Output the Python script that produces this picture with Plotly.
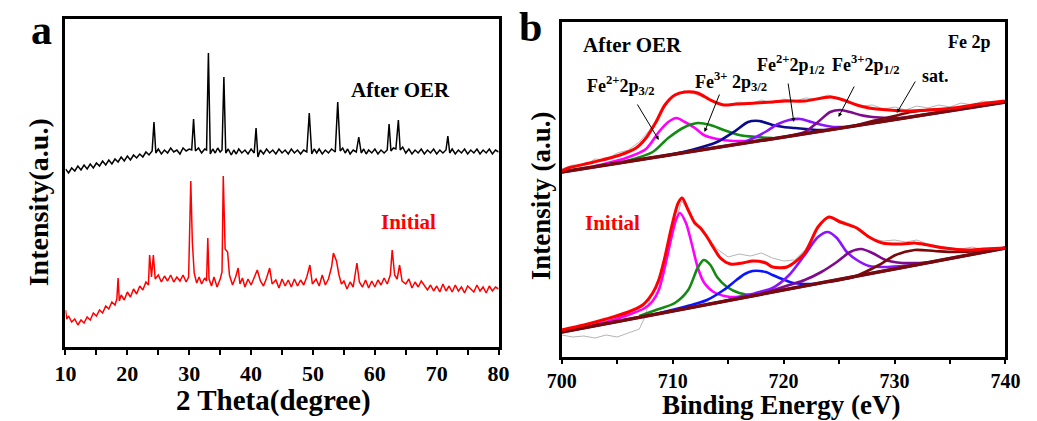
import plotly.graph_objects as go

W, H = 1037, 421
FONT = "Liberation Serif"

# ---------------- Panel a: XRD (arbitrary intensity units) ----------------
xrd_after_x = [10, 10.5, 11, 11.5, 12, 12.5, 13, 13.5, 14, 14.5, 15, 15.5, 16, 16.5, 17, 17.5, 18, 18.5, 19, 19.5,
               20, 20.5, 21, 21.5, 22, 22.5, 23, 23.5, 24.0, 24.3, 24.6, 25, 25.5, 26, 26.5, 27, 27.5, 28, 28.5, 29,
               29.5, 30, 30.4, 30.7, 31.0, 31.5, 32, 32.5, 32.8, 33.1, 33.4, 33.8, 34.2, 34.6, 35.0, 35.3, 35.6, 35.9,
               36.3, 36.8, 37.2, 37.6, 38, 38.5, 39, 39.5, 40, 40.5, 40.8, 41.1, 41.5, 42, 42.5, 43, 43.5, 44, 44.5,
               45, 45.5, 46, 46.5, 47, 47.5, 48, 48.5, 49.0, 49.4, 49.8, 50.2, 50.6, 51, 51.5, 52, 52.5, 53, 53.6,
               54.0, 54.4, 54.8, 55.2, 55.6, 56, 56.5, 57, 57.4, 57.8, 58.2, 58.6, 59, 59.5, 60, 60.5, 61, 61.5,
               62.0, 62.3, 62.6, 63.0, 63.4, 63.8, 64.1, 64.5, 65, 65.5, 66, 66.5, 67, 67.5, 68, 68.5, 69, 69.5, 70,
               70.5, 71, 71.5, 71.8, 72.1, 72.5, 73, 73.5, 74, 74.5, 75, 75.5, 76, 76.5, 77, 77.5, 78, 78.5, 79,
               79.5, 80]
xrd_after_y = [178, 174, 179, 176, 181, 177, 182, 178, 183, 179, 184, 181, 186, 182, 187, 183, 188, 185, 190, 186,
               191, 187, 192, 189, 193, 190, 195, 192, 196, 225, 194, 198, 193, 197, 194, 199, 195, 197, 193, 199,
               196, 198, 197, 228, 196, 199, 194, 198, 197, 294, 193, 198, 194, 199, 195, 197, 270, 194,
               198, 192, 197, 193, 198, 194, 197, 193, 198, 194, 219, 190, 197, 193, 198, 194, 197, 193, 198,
               194, 197, 193, 198, 194, 197, 193, 197, 195, 234, 193, 198, 194, 198, 193, 197, 194, 198, 195,
               245, 196, 199, 194, 198, 193, 197, 195, 210, 194, 198, 193, 197, 194, 198, 193, 197, 194,
               197, 223, 196, 199, 198, 227, 197, 200, 194, 198, 193, 197, 194, 198, 193, 197, 194, 198, 193,
               197, 194, 197, 211, 194, 198, 193, 197, 194, 198, 193, 197, 194, 198, 193, 197, 194, 198, 193,
               197, 195]

xrd_init_x = [10.0, 10.2, 10.5, 11, 11.5, 12, 12.5, 13, 13.5, 14, 14.5, 15, 15.5, 16, 16.5, 17, 17.5, 18, 18.3, 18.5,
              18.7, 19, 19.5, 20, 20.5, 21, 21.5, 22, 22.5, 23, 23.4, 23.6, 23.9, 24.2, 24.5, 25, 25.5, 26, 26.5, 27,
              27.5, 28, 28.5, 29, 29.5, 29.9, 30.25, 30.5, 30.8, 31.2, 31.6, 32, 32.5, 32.8, 33.0, 33.2, 33.6, 34,
              34.5, 35.0, 35.3, 35.5, 35.8, 36.2, 36.5, 37, 37.5, 37.9, 38.2, 38.6, 39, 39.5, 40, 40.5, 41, 41.5,
              42, 42.5, 43, 43.4, 44, 44.5, 45, 45.5, 46, 46.5, 47, 47.5, 48, 48.5, 49.0, 49.5, 49.9, 50.5, 51,
              51.5, 52, 52.5, 53.0, 53.3, 53.8, 54.2, 54.6, 55, 55.5, 56, 56.5, 57.1, 57.5, 58, 58.5, 59, 59.5, 60,
              60.5, 61, 61.5, 62, 62.5, 62.8, 63.2, 63.6, 64.0, 64.4, 65, 65.5, 66, 66.5, 67, 67.5, 68, 68.5, 69,
              69.5, 70, 70.5, 71, 71.5, 72, 72.5, 73, 73.5, 74, 74.5, 75, 75.5, 76, 76.5, 77, 77.5, 78, 78.5, 79,
              79.5, 80]
xrd_init_y = [37, 28, 31, 25, 28, 22, 27, 24, 30, 27, 34, 31, 37, 34, 41, 38, 45, 42, 48, 69,
              46, 52, 47, 55, 50, 58, 53, 61, 57, 65, 62, 92, 70, 92, 68, 72, 65, 71, 66, 72,
              65, 70, 66, 72, 65, 70, 166, 105, 74, 64, 70, 63, 69, 66, 109, 68, 61, 70,
              60, 68, 75, 171, 98, 95, 72, 62, 70, 79, 63, 69, 60, 68, 62, 70, 77, 66,
              61, 69, 79, 63, 67, 59, 68, 61, 67, 60, 68, 61, 67, 62, 70, 82, 63, 68, 61,
              72, 62, 68, 80, 94, 86, 72, 63, 66, 58, 65, 60, 84, 65, 60, 67, 59, 66, 60,
              67, 62, 69, 63, 72, 97, 72, 68, 82, 66, 63, 68, 59, 65, 60, 66, 62, 57, 62,
              56, 61, 55, 63, 56, 61, 55, 62, 56, 60, 54, 61, 58, 55, 62, 56, 60, 54, 61, 56,
              60, 58]

# ---------------- Panel b: XPS Fe 2p (arbitrary intensity units) ----------------
# After OER
aft_base_x = [700, 740]
aft_base_y = [185, 255]
aft_raw_x = list(range(700, 741))
aft_raw_y = [188, 192, 191, 198, 197, 204, 207, 215, 228, 246, 260, 266, 263, 259, 253, 252, 255, 253, 257, 254,
             258, 256, 259, 258, 262, 259, 255, 251, 252, 248, 250, 247, 251, 249, 252, 250, 254, 252, 256, 254, 257]
aft_env_x = [700, 700.6, 702.9, 705.25, 706.7, 707.6, 708.5, 709.3, 710.2, 711.1, 712.25, 713.4, 714.6, 715.75,
             717.5, 719.0, 720.1, 721.9, 724.2, 725.4, 726.6, 727.7, 729.5, 731.2, 733.0, 735.3, 737.7, 739.9]
aft_env_y = [186, 189, 195, 202, 209, 219, 235, 252, 262, 265, 264, 257, 252, 253,
             254, 255, 256, 256, 260, 257, 252, 249, 247, 246, 247, 249, 253, 256]
aft_fe2_32_x = [703, 705.8, 707.6, 708.75, 709.6, 710.35, 711.1, 712.0, 712.8, 714.0, 715.5, 716.9]
aft_fe2_32_y = [191, 199, 208, 225, 235, 239, 235, 229, 222, 218, 216, 216]
aft_fe3_32_x = [705.8, 708.2, 709.6, 711.1, 712.25, 713.4, 714.6, 716.0, 717.5, 719.0]
aft_fe3_32_y = [196, 205, 219, 230, 234, 232, 227, 222, 220, 219]
aft_fe2_12_x = [708.75, 711.7, 714.0, 715.5, 716.8, 717.8, 719.0, 720.0, 721.0, 722.0, 723.0, 724.0]
aft_fe2_12_y = [200, 207, 215, 225, 235, 236, 232, 230, 229, 228, 227, 227]
aft_fe2b_x = [716.5, 717.5, 718.5, 719.5, 720.5, 721.5, 722.5, 723.5, 724.5, 725.5]
aft_fe2b_y = [215, 220, 226, 233, 237, 238, 235, 232, 230, 230]
aft_fe3_12_x = [720.5, 721.9, 723.1, 724.2, 725.1, 726.0, 726.9, 728.0, 729.5, 731]
aft_fe3_12_y = [221, 225, 235, 245, 247, 245, 242, 240, 239, 239]
aft_sat_x = [726, 728, 730, 731.5, 733, 735, 737]
aft_sat_y = [230, 236, 241, 245, 247, 248, 250]

# Initial
ini_base_x = [700, 740]
ini_base_y = [25, 109]
ini_raw_x = [700, 701, 702, 703, 704, 705, 706, 707, 707.5, 708, 708.5, 709, 710, 710.8, 711.5, 712, 713, 714, 715,
             716, 717, 718, 719, 720, 721, 722, 723, 724, 725, 726, 727, 728, 729, 730, 731, 732, 733, 734, 735,
             736, 737, 738, 739, 740]
ini_raw_y = [22, 20, 21, 19, 22, 20, 24, 28, 40, 60, 72, 88, 125, 156, 146, 134, 122, 108, 100,
             103, 101, 104, 99, 96, 97, 108, 128, 141, 137, 133, 124, 118, 116, 117, 115, 117, 113, 111, 109,
             108, 110, 107, 109, 108]
ini_env_x = [700, 702, 704, 706, 707.3, 708.2, 708.75, 709.3, 709.9, 710.5, 710.85, 711.4, 712.0, 712.5, 713.1,
             713.7, 714.3, 715.2, 716.3, 717.2, 718.4, 719.0, 720.3, 721.9, 723.1, 724.1, 725.1, 726.6, 727.7,
             728.9, 730.7, 731.8, 733.0, 734.5, 736.5, 738, 740]
ini_env_y = [27, 32, 38, 45, 52, 64, 77, 100, 130, 154, 159, 147, 134, 129, 120,
             109, 99, 93, 94, 96, 94, 90, 90, 104, 130, 140, 135, 129, 120,
             114, 113, 114, 112, 109, 107, 108, 109]
ini_fe2_32_x = [702, 704, 706, 707.5, 708.2, 708.75, 709.3, 709.9, 710.3, 710.65, 711.2, 711.7, 712.25, 712.8,
                713.7, 715.2, 716.6]
ini_fe2_32_y = [30, 35, 42, 49, 56, 67, 90, 120, 137, 144, 134, 114, 90, 75, 65, 60, 61]
ini_fe3_32_x = [707, 708.75, 710.2, 711.4, 712.25, 712.8, 713.4, 714.0, 714.9, 716.0, 717.2, 718.5]
ini_fe3_32_y = [41, 48, 54, 67, 89, 97, 92, 80, 70, 64, 62, 64]
ini_fe2_12_x = [708.5, 711.7, 713.1, 714.6, 715.75, 716.5, 717.2, 718.4, 719.0, 720.1, 720.9, 721.9, 723]
ini_fe2_12_y = [43, 52, 57, 67, 77, 83, 86, 85, 82, 77, 74, 73, 73]
ini_fe2b_x = [714, 716, 717.5, 719.0, 720.5, 721.9, 723.1, 724.0, 724.8, 725.7, 726.6, 727.7, 729.2, 730.7, 732]
ini_fe2b_y = [54, 60, 64, 69, 82, 102, 120, 125, 119, 105, 97, 91, 90, 91, 92]
ini_fe3_12_x = [718, 720.5, 721.9, 723.4, 724.8, 726.0, 727.0, 728.0, 729.2, 730.7, 732, 733.5]
ini_fe3_12_y = [63, 72, 77, 85, 95, 105, 108, 104, 97, 94, 94, 95]
ini_sat_x = [724, 726.3, 728.6, 730.1, 731.8, 733.6, 735.3, 737.7, 740]
ini_sat_y = [75, 80, 92, 102, 107, 106, 105, 106, 109]

xrd_ticks = [10, 20, 30, 40, 50, 60, 70, 80]
xps_ticks = [700, 710, 720, 730, 740]

# ---------------- colours ----------------
RED = "#ff0000"
MAG = "#ff00ff"
GRN = "#138a13"
NAVY = "#0a0a8c"
BLUE = "#0a14ff"
VIO = "#8a14ff"
PUR = "#800a8c"
MAR = "#7a0a0a"
GRAY = "#b4b4b4"

fig = go.Figure()

# panel a
fig.add_trace(go.Scatter(x=xrd_after_x, y=xrd_after_y, mode="lines", line=dict(color="black", width=1.5),
                         xaxis="x", yaxis="y", showlegend=False))
fig.add_trace(go.Scatter(x=xrd_init_x, y=xrd_init_y, mode="lines", line=dict(color=RED, width=1.5),
                         xaxis="x", yaxis="y", showlegend=False))


def xps(x, y, color, width=2.6, shape="spline"):
    fig.add_trace(go.Scatter(x=x, y=y, mode="lines",
                             line=dict(color=color, width=width, shape=shape, smoothing=0.8),
                             xaxis="x2", yaxis="y2", showlegend=False))


# After OER spectrum
xps(aft_raw_x, aft_raw_y, GRAY, 1.0, "linear")
xps(aft_fe2_32_x, aft_fe2_32_y, MAG)
xps(aft_fe3_32_x, aft_fe3_32_y, GRN)
xps(aft_fe2_12_x, aft_fe2_12_y, NAVY)
xps(aft_fe2b_x, aft_fe2b_y, VIO)
xps(aft_fe3_12_x, aft_fe3_12_y, PUR)
xps(aft_sat_x, aft_sat_y, MAR)
xps(aft_base_x, aft_base_y, BLUE, 3, "linear")
xps(aft_base_x, aft_base_y, MAR, 3.5, "linear")
xps(aft_env_x, aft_env_y, RED, 3)

# Initial spectrum
xps(ini_raw_x, ini_raw_y, GRAY, 1.0, "linear")
xps(ini_fe2_32_x, ini_fe2_32_y, MAG)
xps(ini_fe3_32_x, ini_fe3_32_y, GRN)
xps(ini_fe2_12_x, ini_fe2_12_y, BLUE)
xps(ini_fe2b_x, ini_fe2b_y, VIO)
xps(ini_fe3_12_x, ini_fe3_12_y, PUR)
xps(ini_sat_x, ini_sat_y, MAR)
xps(ini_base_x, ini_base_y, BLUE, 3, "linear")
xps(ini_base_x, ini_base_y, MAR, 3.5, "linear")
xps(ini_env_x, ini_env_y, RED, 3)

axis_common = dict(showline=True, linecolor="black", linewidth=3, mirror=True, showgrid=False, zeroline=False)


def px_x(p):
    return p / W


def px_y(p):
    return 1 - p / H


fig.update_layout(
    width=W, height=H, margin=dict(l=0, r=0, t=0, b=0),
    paper_bgcolor="white", plot_bgcolor="white",
    xaxis=dict(domain=[px_x(52), px_x(498)], range=[10, 80], anchor="y", tickvals=xrd_ticks,
               ticks="outside", ticklen=5, tickwidth=2, tickcolor="black",
               tickfont=dict(family=FONT, size=22, color="black", weight="bold"),
               minor=dict(ticks="outside", ticklen=5, tickwidth=2, tickcolor="black", dtick=5, tick0=5),
               **axis_common),
    yaxis=dict(domain=[px_y(347), px_y(19)], range=[0, 328], anchor="x", showticklabels=False, ticks="",
               **axis_common),
    xaxis2=dict(domain=[px_x(563), px_x(1020)], range=[700, 740], anchor="y2", tickvals=xps_ticks,
                ticks="outside", ticklen=4, tickwidth=2, tickcolor="black",
                tickfont=dict(family=FONT, size=20, color="black", weight="bold"),
                minor=dict(ticks="outside", ticklen=4, tickwidth=2, tickcolor="black", dtick=5, tick0=705),
                **axis_common),
    yaxis2=dict(domain=[px_y(357), px_y(22)], range=[0, 335], anchor="x2", showticklabels=False, ticks="",
                **axis_common),
)

ann = []


def text(px, py, s, size, color="black", angle=0):
    ann.append(dict(x=px_x(px), y=px_y(py), xref="paper", yref="paper", text=s, showarrow=False,
                    xanchor="center", yanchor="middle", textangle=angle,
                    font=dict(family=FONT, size=size, color=color, weight="bold")))


text(27, 30, "a", 42)
text(531, 27, "b", 42)
text(24, 202, "Intensity(a.u.)", 28, angle=-90)
text(542, 196, "Intensity (a.u.)", 27, angle=-90)
text(266, 400, "2 Theta(degree)", 29)
text(789, 405, "Binding Energy (eV)", 27)
text(397, 90, "After OER", 21)
text(405, 222, "Initial", 21, RED)
text(636, 45, "After OER", 21)
text(983, 42, "Fe 2p", 18)
text(615, 223, "Initial", 21, RED)
text(624, 85, "Fe<sup>2+</sup>2p<sub>3/2</sub>", 18)
text(737, 82, "Fe<sup>3+</sup> 2p<sub>3/2</sub>", 18)
text(799, 65, "Fe<sup>2+</sup>2p<sub>1/2</sub>", 18)
text(876, 65, "Fe<sup>3+</sup>2p<sub>1/2</sub>", 18)
text(948, 76, "sat.", 18)


def arrow(x0, y0, x1, y1):
    # tail (x0,y0) -> head (x1,y1) in panel-b data units
    ann.append(dict(x=x1, y=y1, ax=x0, ay=y0, xref="x2", yref="y2", axref="x2", ayref="y2", text="",
                    showarrow=True, arrowhead=2, arrowsize=0.8, arrowwidth=1, arrowcolor="black"))


arrow(706.74, 254, 708.75, 217)
arrow(714.27, 264, 712.87, 225)
arrow(720.39, 275, 720.92, 235)
arrow(726.43, 272, 724.95, 240)
arrow(731.95, 277, 730.2, 244)

fig.update_layout(annotations=ann)
fig.write_html("out.html")
